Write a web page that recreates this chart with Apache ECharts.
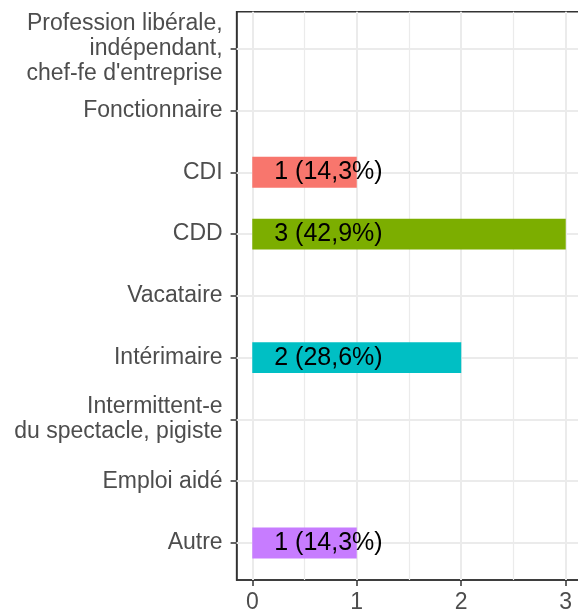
<!DOCTYPE html>
<html>
<head>
<meta charset="utf-8">
<script src="https://cdn.jsdelivr.net/npm/echarts@6/dist/echarts.min.js"></script>
<style>
  html, body { margin: 0; padding: 0; background: #fff; }
  #chart { width: 578px; height: 609px; }
</style>
</head>
<body>
<div id="chart"></div>
<script>
// statut d'emploi : nombre de réponses (total 7)
const categories = [
  'Profession libérale,\nindépendant,\nchef-fe d\'entreprise',
  'Fonctionnaire',
  'CDI',
  'CDD',
  'Vacataire',
  'Intérimaire',
  'Intermittent-e\ndu spectacle, pigiste',
  'Emploi aidé',
  'Autre'
]
const counts = [0, 0, 1, 3, 0, 2, 0, 0, 1]
const barColors = ['#F8766D', '#7CAE00', '#00BFC4', '#C77CFF']
const xTicks = [0, 1, 2, 3]
const xGrid = [0, 0.5, 1, 1.5, 2, 2.5, 3]

const FONT = "'Liberation Sans', Arial, Helvetica, sans-serif"
const total = counts.reduce((a, b) => a + b, 0)

// seules les modalités non nulles ont une barre
const rows = []
counts.forEach((n, i) => {
  if (n > 0) {
    const pct = (n / total * 100).toFixed(1).replace('.', ',')
    rows.push([n, i + 1, `${n} (${pct}%)`])
  }
})
const yPos = categories.map((_, i) => i + 1)

const tick = { show: true, inside: false, length: 6, lineStyle: { color: '#333', width: 1.5 } }

const chart = echarts.init(document.getElementById('chart'))
chart.setOption({
  animation: false,
  textStyle: { fontFamily: FONT },
  grid: {
    left: 236.6, top: 11.7, width: 344.8, height: 568.3,
    containLabel: false, outerBoundsMode: 'none',
    show: true, borderColor: '#333', borderWidth: 1.5
  },
  xAxis: {
    type: 'value', min: -0.15, max: 3.15,
    axisLine: { show: true, onZero: false, lineStyle: { color: '#333', width: 1.5 } },
    axisTick: { ...tick, customValues: xTicks },
    axisLabel: { customValues: xTicks, fontSize: 23, color: '#4D4D4D', margin: 11, fontFamily: FONT },
    splitLine: { show: false }
  },
  yAxis: {
    type: 'value', min: 0.4, max: 9.6, inverse: true,
    axisLine: { show: true, onZero: false, lineStyle: { color: '#333', width: 1.5 } },
    axisTick: { ...tick, customValues: yPos },
    axisLabel: {
      customValues: yPos,
      formatter: (v) => categories[Math.round(v) - 1] || '',
      fontSize: 23, lineHeight: 25, color: '#4D4D4D', margin: 14, fontFamily: FONT
    },
    splitLine: { show: false }
  },
  series: [{
    type: 'custom',
    z: 2,
    data: rows,
    renderItem: (params, api) => {
      const y = api.value(1)
      const start = api.coord([0, y])
      const end = api.coord([api.value(0), y])
      const h = api.size([0, 0.5])[1]
      return {
        type: 'rect',
        shape: { x: start[0], y: start[1] - h / 2, width: end[0] - start[0], height: h },
        style: { fill: barColors[params.dataIndex % barColors.length] },
        textContent: {
          style: { text: rows[params.dataIndex][2], fontSize: 25, fill: '#000', fontFamily: FONT }
        },
        textConfig: { position: 'insideLeft', distance: 22 }
      }
    },
    markLine: {
      silent: true, symbol: 'none', z: 1,
      label: { show: false },
      data: [
        ...xGrid.map((v) => ({ xAxis: v, lineStyle: { color: '#EBEBEB', type: 'solid', width: Number.isInteger(v) ? 2 : 1.2 } })),
        ...yPos.map((v) => ({ yAxis: v, lineStyle: { color: '#EBEBEB', type: 'solid', width: 2 } }))
      ]
    }
  }]
})
</script>
</body>
</html>
